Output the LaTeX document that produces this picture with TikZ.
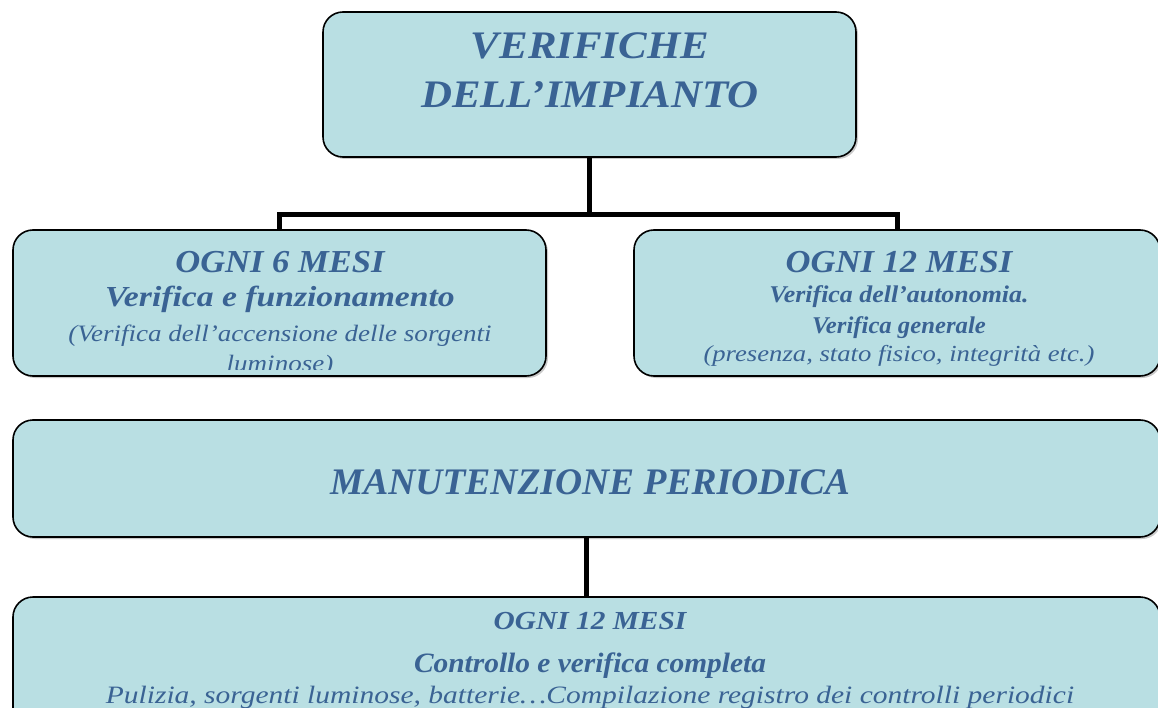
\documentclass[tikz,border=0pt]{standalone}
\usepackage{fontspec}
\setmainfont{Liberation Serif}
\usetikzlibrary{shadows}
\definecolor{boxfill}{HTML}{B9DFE3}
\definecolor{boxtext}{HTML}{3A6394}

\begin{document}
\begin{tikzpicture}[x=1pt,y=-1pt,
  box/.style={draw=black, line width=1.6pt, fill=boxfill, rounded corners=20pt,
    inner sep=0pt, drop shadow={shadow xshift=2pt, shadow yshift=-2pt, fill=black!35, opacity=.6}},
  link/.style={line width=5pt},
  txt/.style={text=boxtext, anchor=base, inner sep=0pt},
  sub/.style n args={2}{txt, font=\fontsize{#1}{#1}\selectfont\bfseries\itshape\addfontfeatures{FakeStretch=#2}},
  note/.style n args={2}{txt, font=\fontsize{#1}{#1}\selectfont\itshape\addfontfeatures{FakeStretch=#2}}]
\useasboundingbox (0,0) rectangle (1158,708);
\clip (0,0) rectangle (1158,708);

% boxes: name / left / top / right / bottom (pixels of the page)
\foreach \n/\l/\t/\r/\b in {top/323/12/856/157, six/13/230/546/376,
    twelve/634/230/1160/376, manut/13/420/1160/537, annual/13/597/1160/740}{%
  \node[box, minimum width={\r-\l}, minimum height={\b-\t}]
    (\n) at ({(\l+\r)/2},{(\t+\b)/2}) {};}

% connectors
\coordinate (fork) at (top.south |- 0,215);
\draw[link] (top.south) -- (fork);
\draw[link] (six.north) |- (fork) -| (twelve.north);
\draw[link] (manut.south) -- (annual.north);

% top
\node[sub={39}{1.1}] (topa) at (590,59) {VERIFICHE};
\node[sub={39}{1.1}] (topb) at (590,108) {DELL’IMPIANTO};

% every 6 months
\node[sub={32}{1.08}] (sixa) at (280,273) {OGNI 6 MESI};
\node[sub={29}{1.16}] (sixb) at (280,307) {Verifica e funzionamento};
\begin{scope}
\clip (13,230) rectangle (546,369);
\node[note={23.5}{1.15}] (sixc) at (280,341) {(Verifica dell’accensione delle sorgenti};
\node[note={23.5}{1.15}] (sixd) at (280,371) {luminose)};
\end{scope}

% every 12 months
\node[sub={32}{1.08}] (twa) at (899,273) {OGNI 12 MESI};
\node[sub={24}{1.08}] (twb) at (899,303) {Verifica dell’autonomia.};
\node[sub={24}{1.03}] (twc) at (899,333) {Verifica generale};
\node[note={23}{1.16}] (twd) at (899,361) {(presenza, stato fisico, integrità etc.)};

% maintenance
\node[sub={37.5}{1}] (mana) at (590,494) {MANUTENZIONE PERIODICA};

% yearly check
\node[sub={26}{1.13}] (anna) at (590,629) {OGNI 12 MESI};
\node[sub={28}{1.05}] (annb) at (590,672) {Controllo e verifica completa};
\node[note={25}{1.18}] (annc) at (590,703) {Pulizia, sorgenti luminose, batterie…Compilazione registro dei controlli periodici};
\end{tikzpicture}
\end{document}
